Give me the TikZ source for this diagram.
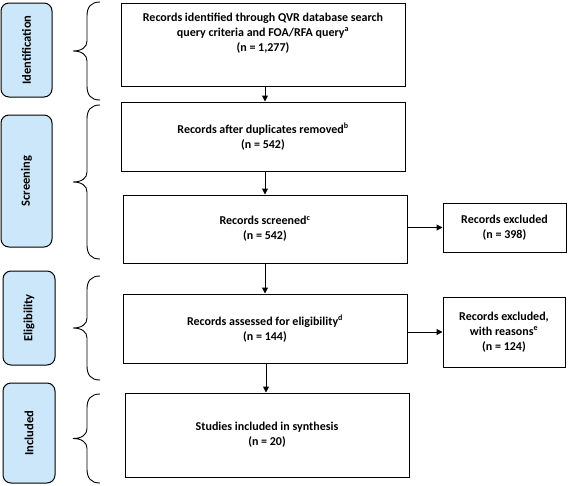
\documentclass[tikz,border=0pt]{standalone}
\usepackage{fontspec}
\setmainfont{Carlito}
\usetikzlibrary{arrows.meta}
\definecolor{phaseblue}{RGB}{204,230,250}
\newcommand{\sidebrace}[2]{%
  \pgfmathsetmacro{\bm}{(#1+#2)/2}%
  \draw[bracestyle] (100,#1) .. controls (91,#1) and (87,#1+5) .. (87,#1+14)
    -- (87,\bm-10) .. controls (87,\bm-4) and (82,\bm) .. (73,\bm)
    .. controls (82,\bm) and (87,\bm+4) .. (87,\bm+10)
    -- (87,#2-14) .. controls (87,#2-5) and (91,#2) .. (100,#2);}
\begin{document}
\begin{tikzpicture}[x=1pt,y=-1pt,
  flowbox/.style={draw=black,line width=1pt,fill=white,inner sep=2pt,
    minimum width=#1,align=center,font=\bfseries\fontsize{12}{15}\selectfont},
  flowtext/.style={inner sep=0pt,align=center,font=\bfseries\fontsize{12}{15}\selectfont},
  phase/.style={draw=black,line width=1pt,fill=phaseblue,rounded corners=8pt,
    inner sep=0pt,font=\bfseries\fontsize{12.5}{14}\selectfont},
  bracestyle/.style={draw=black,line width=0.9pt},
  arr/.style={draw=black,line width=1pt,-{Triangle[length=6pt,width=6pt]}}]
\useasboundingbox (0,0) rectangle (568,485);
% phase labels
\node[phase,minimum width=51pt,minimum height=94pt] (pid) at (26.5,50) {\rotatebox{90}{Identification}};
\node[phase,minimum width=51pt,minimum height=132pt] (psc) at (26.5,181) {\rotatebox{90}{Screening}};
\node[phase,minimum width=52pt,minimum height=94pt] (pel) at (29,318) {\rotatebox{90}{Eligibility}};
\node[phase,minimum width=52pt,minimum height=100pt] (pin) at (29,433) {\rotatebox{90}{Included}};
% braces
\sidebrace{2}{100}
\sidebrace{105}{259}
\sidebrace{276}{380}
\sidebrace{394}{483}
% boxes
\node[flowbox=284pt,minimum height=83pt] (b1) at (263,44.5) {};
\node[flowtext] (b1t) at (263,33) {Records identified through QVR database search\\query criteria and FOA/RFA query\textsuperscript{a}\\(n = 1,277)};
\node[flowbox=284pt,minimum height=69pt] (b2) at (263,136.5) {Records after duplicates removed\textsuperscript{b}\\(n = 542)};
\node[flowbox=284pt,minimum height=68pt] (b3) at (265,229) {Records screened\textsuperscript{c}\\(n = 542)};
\node[flowbox=284pt,minimum height=69pt] (b4) at (265,328.5) {Records assessed for eligibility\textsuperscript{d}\\(n = 144)};
\node[flowbox=284pt,minimum height=84pt] (b5) at (267,435) {Studies included in synthesis\\(n = 20)};
\node[flowbox=123pt,minimum height=49pt] (ex1) at (504.5,227.5) {Records excluded\\(n = 398)};
\node[flowbox=122pt,minimum height=70pt] (ex2) at (504,332) {Records excluded,\\with reasons\textsuperscript{e}\\(n = 124)};
% connectors
\draw[arr] (b1.south -| 265,0) -- (b2.north -| 265,0);
\draw[arr] (b2.south -| 265,0) -- (b3.north -| 265,0);
\draw[arr] (b3.south -| 265,0) -- (b4.north -| 265,0);
\draw[arr] (b4.south -| 266,0) -- (b5.north -| 266,0);
\draw[arr] (b3.east |- ex1.west) -- (ex1.west);
\draw[arr] (b4.east |- ex2.west) -- (ex2.west);
\end{tikzpicture}
\end{document}
